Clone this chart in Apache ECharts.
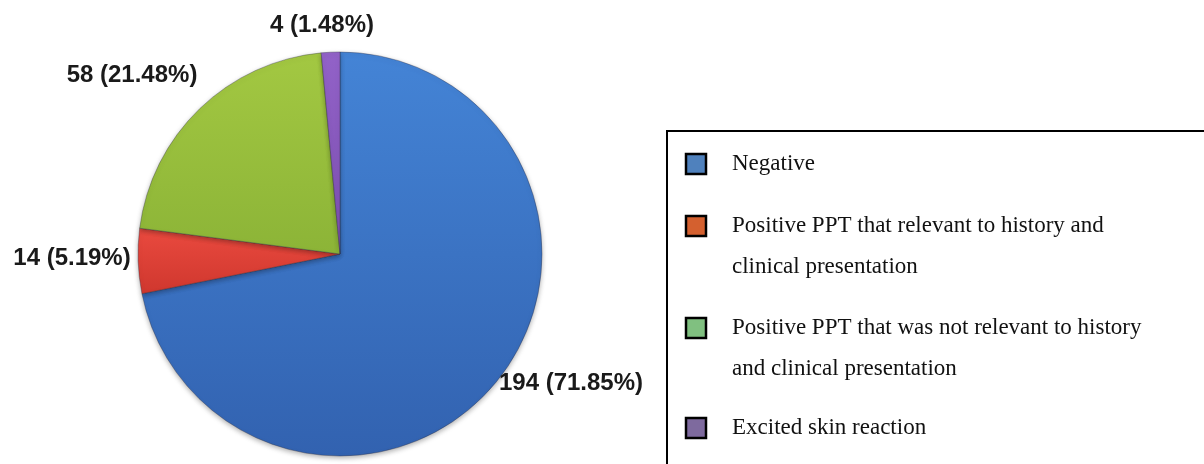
<!DOCTYPE html>
<html>
<head>
<meta charset="utf-8">
<script src="https://cdn.jsdelivr.net/npm/echarts@6/dist/echarts.min.js"></script>
<style>
  html, body { margin: 0; padding: 0; background: #ffffff; }
  #chart { width: 1204px; height: 464px; }
</style>
</head>
<body>
<div id="chart"></div>
<script>
// Patch test outcomes (number of patients per group)
const categories = [
  'Negative',
  'Positive PPT that relevant to history and clinical presentation',
  'Positive PPT that was not relevant to history and clinical presentation',
  'Excited skin reaction'
];
const counts = [194, 14, 58, 4];
const percents = [71.85, 5.19, 21.48, 1.48];

// Legend wording, broken into the lines it is printed on
const legendLines = [
  ['Negative'],
  ['Positive PPT that relevant to history and', 'clinical presentation'],
  ['Positive PPT that was not relevant to history', 'and clinical presentation'],
  ['Excited skin reaction']
];

// ---- styling / layout ----
const sliceGradients = [
  ['#4484d6', '#3262b0'],
  ['#ea4a3f', '#cf372e'],
  ['#a3c842', '#8cb437'],
  ['#9262c8', '#7c4fb0']
];
const legendSwatches = ['#4f81bd', '#d4602f', '#80c080', '#7e6a9e'];
const pieCenter = [340, 254];
const pieRadius = 202;
const labelCenters = [[571, 383], [72, 258], [132, 75], [322, 25]];
const legendBox = { x: 667, y: 131 };
const legendRowY = [164, 226, 328, 428];
const legendLineHeight = 41;
const legendIconX = 686, legendIconSize = 20, legendTextX = 732;

const chart = echarts.init(document.getElementById('chart'), null, { renderer: 'canvas' });

const pieData = categories.map((name, i) => ({
  name,
  value: counts[i],
  pct: percents[i],
  itemStyle: {
    color: new echarts.graphic.LinearGradient(0, 0, 0, 1, [
      { offset: 0, color: sliceGradients[i][0] },
      { offset: 1, color: sliceGradients[i][1] }
    ])
  }
}));

const legendGraphics = [{
  type: 'rect',
  shape: { x: legendBox.x, y: legendBox.y, width: 1204 - legendBox.x + 20, height: 464 - legendBox.y + 20 },
  style: { fill: null, stroke: '#000', lineWidth: 2 },
  silent: true
}];
legendLines.forEach((lines, i) => {
  const cy = legendRowY[i];
  legendGraphics.push({
    type: 'rect',
    shape: { x: legendIconX, y: cy - legendIconSize / 2, width: legendIconSize, height: legendIconSize },
    style: { fill: legendSwatches[i], stroke: '#000', lineWidth: 2.5 },
    silent: true
  });
  lines.forEach((line, j) => {
    legendGraphics.push({
      type: 'text',
      x: legendTextX,
      y: cy + j * legendLineHeight,
      style: {
        text: line,
        fill: '#111',
        font: '23px "Liberation Serif", "Times New Roman", serif',
        verticalAlign: 'middle',
        align: 'left'
      },
      silent: true
    });
  });
});

chart.setOption({
  animation: false,
  backgroundColor: '#ffffff',
  series: [{
    type: 'pie',
    center: pieCenter,
    radius: pieRadius,
    startAngle: 90,
    clockwise: true,
    data: pieData,
    itemStyle: {
      borderColor: 'rgba(40,40,60,0.35)',
      borderWidth: 1,
      shadowBlur: 5,
      shadowColor: 'rgba(0,0,0,0.3)',
      shadowOffsetY: 2
    },
    label: {
      show: true,
      position: 'outside',
      overflow: 'none',
      formatter: p => p.value + ' (' + p.data.pct.toFixed(2) + '%)',
      color: '#1a1a1a',
      fontFamily: '"Liberation Sans", Arial, sans-serif',
      fontWeight: 'bold',
      fontSize: 24
    },
    labelLine: { show: false },
    labelLayout: p => ({
      x: labelCenters[p.dataIndex][0],
      y: labelCenters[p.dataIndex][1],
      align: 'center',
      verticalAlign: 'middle'
    }),
    emphasis: { disabled: true }
  }],
  graphic: legendGraphics
});
</script>
</body>
</html>
